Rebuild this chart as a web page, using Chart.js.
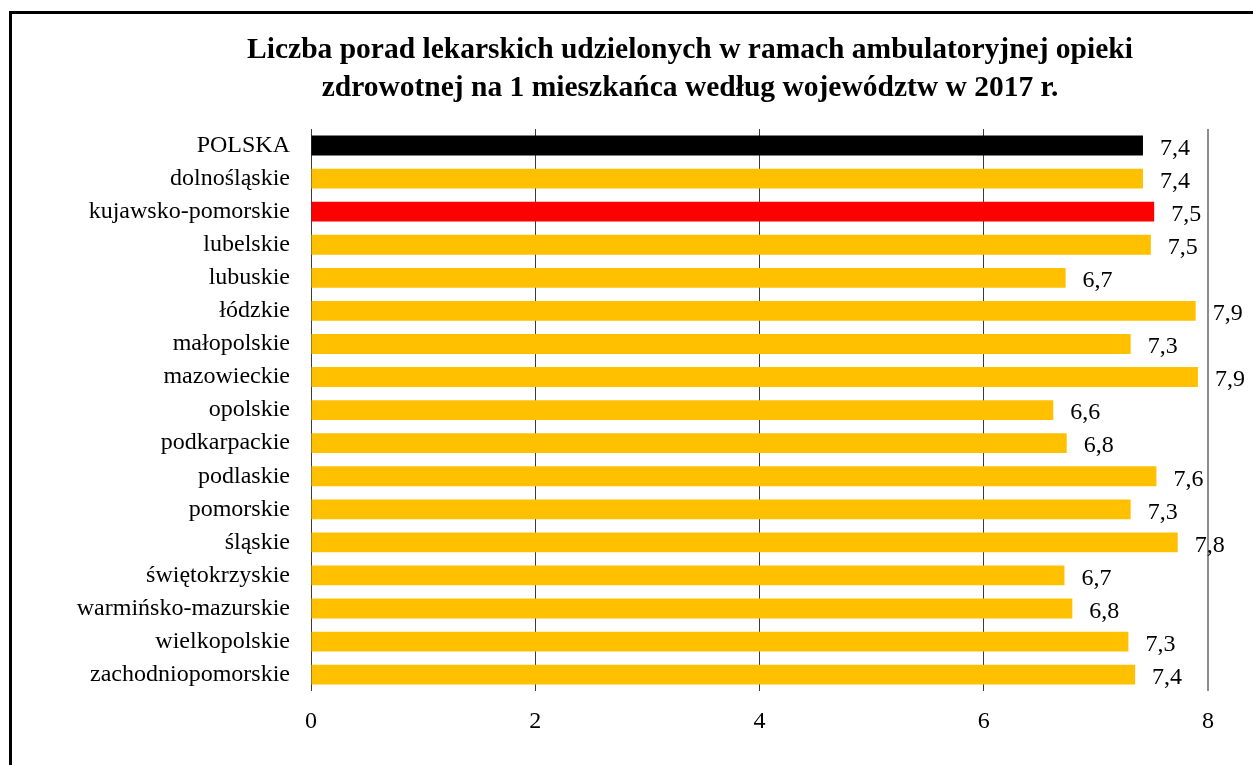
<!DOCTYPE html>
<html>
<head>
<meta charset="utf-8">
<script src="https://cdn.jsdelivr.net/npm/chart.js@4"></script>
<style>
  html, body { margin: 0; padding: 0; background: #fff; }
  #wrap { position: relative; width: 1253px; height: 765px; }
</style>
</head>
<body>
<div id="wrap"><canvas id="chart" width="1253" height="765"></canvas></div>
<script>
const regions = [
  "POLSKA", "dolnośląskie", "kujawsko-pomorskie", "lubelskie", "lubuskie",
  "łódzkie", "małopolskie", "mazowieckie", "opolskie", "podkarpackie",
  "podlaskie", "pomorskie", "śląskie", "świętokrzyskie", "warmińsko-mazurskie",
  "wielkopolskie", "zachodniopomorskie"
];
const visits = [7.42, 7.42, 7.52, 7.49, 6.73, 7.89, 7.31, 7.91, 6.62, 6.74,
                7.54, 7.31, 7.73, 6.72, 6.79, 7.29, 7.35];
const visitLabels = ["7,4", "7,4", "7,5", "7,5", "6,7", "7,9", "7,3", "7,9", "6,6", "6,8",
                     "7,6", "7,3", "7,8", "6,7", "6,8", "7,3", "7,4"];
const xTicks = [0, 2, 4, 6, 8];
const titleLines = [
  "Liczba porad lekarskich udzielonych w ramach ambulatoryjnej opieki",
  "zdrowotnej na 1 mieszkańca według województw w 2017 r."
];

const serif = "'Liberation Serif', 'Times New Roman', serif";

function barColor(i) {
  if (regions[i] === "POLSKA") return "#000000";
  if (regions[i] === "kujawsko-pomorskie") return "#ff0000";
  return "#ffc000";
}

// frame + title, drawn by hand so the title can sit off-centre like the original
const framePlugin = {
  id: "frame",
  afterDraw(chart) {
    const ctx = chart.ctx;
    ctx.save();
    ctx.strokeStyle = "#000";
    ctx.lineWidth = 3;
    ctx.strokeRect(10.5, 12.5, 1260, 800);
    ctx.fillStyle = "#000";
    ctx.font = "bold 29.5px " + serif;
    ctx.textAlign = "center";
    ctx.textBaseline = "middle";
    ctx.fillText(titleLines[0], 690, 50);
    ctx.fillText(titleLines[1], 690, 88);
    ctx.restore();
  }
};

// value labels to the right of bars
const valueLabels = {
  id: "valueLabels",
  afterDatasetsDraw(chart) {
    const ctx = chart.ctx;
    const meta = chart.getDatasetMeta(0);
    ctx.save();
    ctx.font = "24px " + serif;
    ctx.fillStyle = "#000";
    ctx.textAlign = "left";
    ctx.textBaseline = "middle";
    meta.data.forEach((bar, i) => {
      ctx.fillText(visitLabels[i], bar.x + 17, bar.y + 3);
    });
    ctx.restore();
  }
};

new Chart(document.getElementById("chart"), {
  type: "bar",
  data: {
    labels: regions,
    datasets: [{
      data: visits,
      backgroundColor: regions.map((r, i) => barColor(i)),
      borderWidth: 0,
      barPercentage: 0.6,
      categoryPercentage: 1.0
    }]
  },
  options: {
    indexAxis: "y",
    responsive: false,
    animation: false,
    layout: { padding: { left: 0, right: 45, top: 129, bottom: 13 } },
    plugins: {
      legend: { display: false },
      tooltip: { enabled: false },
      title: { display: false }
    },
    scales: {
      x: {
        min: 0,
        max: 8,
        afterBuildTicks(scale) { scale.ticks = xTicks.map(v => ({ value: v })); },
        grid: {
          drawTicks: false,
          color: ctx => ctx.tick && ctx.tick.value === 8 ? "#8c8c8c" : "#3a3a3a",
          lineWidth: ctx => ctx.tick && ctx.tick.value === 8 ? 2 : 1
        },
        border: { display: false },
        ticks: {
          color: "#000",
          padding: 16,
          font: { family: serif, size: 24 }
        }
      },
      y: {
        grid: { display: false, drawTicks: false },
        border: { display: false },
        afterFit(scale) { scale.width = 311; },
        ticks: {
          color: "#000",
          padding: 21,
          autoSkip: false,
          font: { family: serif, size: 24 }
        }
      }
    }
  },
  plugins: [framePlugin, valueLabels]
});
</script>
</body>
</html>
